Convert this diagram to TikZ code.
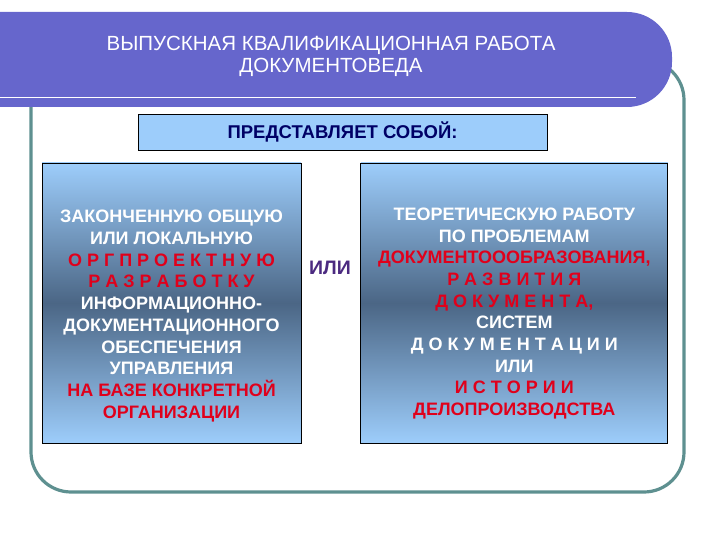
\documentclass[tikz,border=0pt]{standalone}
\usepackage{fontspec}
\setmainfont{Liberation Sans}
\usetikzlibrary{positioning}
\definecolor{bannerblue}{HTML}{6666CC}
\definecolor{frameteal}{HTML}{5E9090}
\definecolor{paleblue}{HTML}{9DCDFB}
\definecolor{steelblue}{HTML}{4B6685}
\definecolor{navytext}{HTML}{000066}
\definecolor{redtext}{HTML}{E0001B}
\definecolor{ortext}{HTML}{4B2A80}

\begin{document}
\begin{tikzpicture}[x=1pt,y=-1pt,
  gradbox/.style={draw=black, line width=0.8pt, top color=paleblue, bottom color=paleblue, middle color=steelblue, minimum height=280pt, inner sep=0pt},
  boxtext/.style={align=center, text=white, font=\bfseries\fontsize{18}{21.7}\selectfont}]
\useasboundingbox (0,0) rectangle (720,540);
% frame and banner
\draw[frameteal, line width=3.2pt, rounded corners=40pt] (31,60) rectangle (684,492);
\fill[bannerblue, rounded corners=45pt] (-60,12) rectangle (672,107);
\draw[white, line width=1.6pt] (0,97.5) -- (636,97.5);
\node[text=white, align=center, font=\fontsize{20.5}{22}\selectfont] (title) at (331,56) {ВЫПУСКНАЯ КВАЛИФИКАЦИОННАЯ РАБОТА\\ДОКУМЕНТОВЕДА};
\node[draw=black, line width=0.8pt, fill=paleblue, minimum width=409pt, minimum height=36pt, text=navytext, font=\bfseries\fontsize{18.5}{20}\selectfont] (ask) at (342.5,132) {ПРЕДСТАВЛЯЕТ СОБОЙ:};
% the two boxes
\node[gradbox, minimum width=259pt] (work) at (171.5,303) {};
\node[gradbox, minimum width=307pt] (theory) [right=59pt of work] {};
\node[boxtext] (worktext) at ([yshift=-13pt]work.center) {ЗАКОНЧЕННУЮ ОБЩУЮ\\ИЛИ ЛОКАЛЬНУЮ\\\textcolor{redtext}{О Р Г П Р О Е К Т Н У Ю}\\\textcolor{redtext}{Р А З Р А Б О Т К У}\\ИНФОРМАЦИОННО-\\ДОКУМЕНТАЦИОННОГО\\ОБЕСПЕЧЕНИЯ\\УПРАВЛЕНИЯ\\\textcolor{redtext}{НА БАЗЕ КОНКРЕТНОЙ}\\\textcolor{redtext}{ОРГАНИЗАЦИИ}};
\node[boxtext] (theorytext) at ([yshift=-10.5pt]theory.center) {ТЕОРЕТИЧЕСКУЮ РАБОТУ\\ПО ПРОБЛЕМАМ\\\textcolor{redtext}{ДОКУМЕНТОООБРАЗОВАНИЯ,}\\\textcolor{redtext}{Р А З В И Т И Я}\\\textcolor{redtext}{Д О К У М Е Н Т А,}\\СИСТЕМ\\Д О К У М Е Н Т А Ц И И\\ИЛИ\\\textcolor{redtext}{И С Т О Р И И}\\\textcolor{redtext}{ДЕЛОПРОИЗВОДСТВА}};
\node[text=ortext, font=\bfseries\fontsize{19.5}{20}\selectfont] (or) at (330,268) {ИЛИ};
\end{tikzpicture}
\end{document}
